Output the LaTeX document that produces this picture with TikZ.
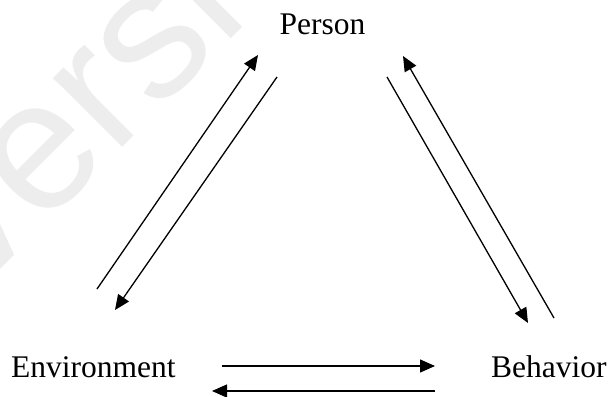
\documentclass[tikz,border=0pt]{standalone}
\usepackage{fontspec}
\setmainfont{Liberation Serif}
\newfontfamily\wmfont{Liberation Sans}
\usetikzlibrary{arrows.meta}
\tikzset{
  label/.style={font=\fontsize{31.5}{37}\selectfont, inner sep=0pt},
  arr/.style={line width=1.3pt, -{Triangle[length=15pt,width=13pt]}},
  watermark/.style={rotate=45, anchor=base west, inner sep=0pt,
    text=black!7, font=\wmfont\fontsize{185}{185}\selectfont}
}
\begin{document}
\begin{tikzpicture}[x=1pt,y=-1pt]
  \useasboundingbox (0,0) rectangle (610,396);
  % faint background watermark
  \begin{scope}
    \clip (0,0) rectangle (610,396);
    \node[watermark] (wm) at (-25,295) {version};
  \end{scope}

  % labels
  \node[label, anchor=base] (person) at (322.5,35) {Person};
  \node[label, anchor=base west] (env) at (11,377) {Environment};
  \node[label, anchor=base west] (beh) at (491,377) {Behavior};

  % arrow end points
  \coordinate (ep1) at (97,289);  \coordinate (pe1) at (258,55);
  \coordinate (pe2) at (277,77);  \coordinate (ep2) at (115,310);
  \coordinate (pb1) at (387,77);  \coordinate (bp1) at (528,323);
  \coordinate (bp2) at (554,318); \coordinate (pb2) at (403,56);
  \coordinate (eb1) at (222,366); \coordinate (be1) at (435,366);
  \coordinate (be2) at (435,391); \coordinate (eb2) at (212,391);

  % reciprocal influences
  \draw[arr] (ep1) -- (pe1);
  \draw[arr] (pe2) -- (ep2);
  \draw[arr] (pb1) -- (bp1);
  \draw[arr] (bp2) -- (pb2);
  \draw[arr] (eb1) -- (be1);
  \draw[arr] (be2) -- (eb2);
\end{tikzpicture}
\end{document}
